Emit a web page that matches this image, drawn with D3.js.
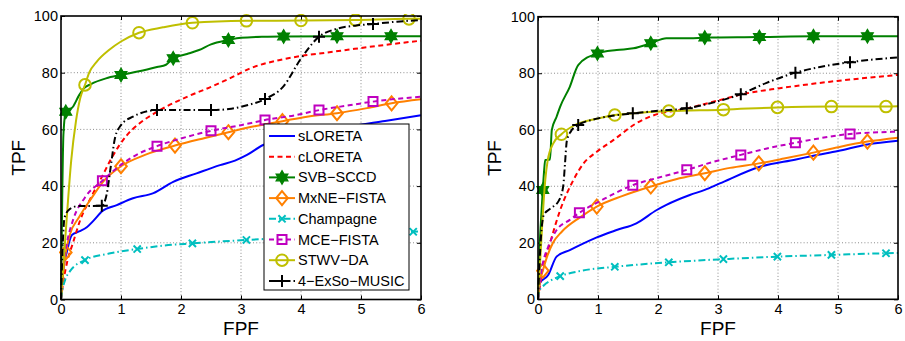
<!DOCTYPE html>
<html>
<head>
<meta charset="utf-8">
<script src="https://cdn.jsdelivr.net/npm/d3@7"></script>
<style>
  html, body { margin: 0; padding: 0; background: #fff; }
  svg { display: block; font-family: "Liberation Sans", Arial, Helvetica, sans-serif; }
</style>
</head>
<body>
<svg id="chart" width="905" height="341"></svg>
<script>
// Axis ticks
const xTicks = [0, 1, 2, 3, 4, 5, 6];
const yTicks = [0, 20, 40, 60, 80, 100];
const xLabel = "FPF";
const yLabel = "TPF";

// Method names in legend order
const methods = ["sLORETA", "cLORETA", "SVB\u2212SCCD", "MxNE\u2212FISTA", "Champagne", "MCE\u2212FISTA", "STWV\u2212DA", "4\u2212ExSo\u2212MUSIC"];

// ROC points [FPF, TPF, marked?] — left panel
const sloretaL = [[0,0],[0.02,5],[0.04,10.4],[0.1,17],[0.18,22.7],[0.3,24],[0.43,25.5],[0.55,28],[0.68,31],[0.93,33.3],[1.2,35.7],[1.54,37.5],[1.87,41.5],[2.26,44.5],[2.65,47.4],[2.9,49],[3.1,51],[3.37,54.5],[3.7,56.5],[4.2,58.5],[4.8,61],[5.4,63],[6,65]];
const cloretaL = [[0,0],[0.03,5],[0.1,13],[0.2,20],[0.32,28],[0.5,36],[0.7,44],[0.82,49],[0.96,54],[1.1,58],[1.3,62],[1.6,66.2],[2.1,71.5],[2.5,75],[2.87,78.6],[3.15,81.5],[3.65,84.5],[4,85.9],[4.4,87],[4.82,88.2],[5.4,89.8],[6,91.3]];
const svbL = [[0,0],[0.02,35],[0.04,58],[0.08,66.2,1],[0.2,68],[0.3,72],[0.38,74.5],[0.5,76],[0.75,78],[1.0,79.2,1],[1.3,80.5],[1.6,82],[1.75,82.8],[1.87,85.1,1],[2.1,86.6],[2.3,88],[2.5,90],[2.79,91.5,1],[3.0,92.3],[3.4,92.7],[3.71,92.8,1],[4.6,92.9,1],[5.5,92.9,1],[6,92.9]];
const mxneL = [[0,0],[0.03,8],[0.08,16.6,1],[0.15,23],[0.3,29],[0.5,35.5],[0.7,41.5],[1,47,1],[1.4,51],[1.9,54.3,1],[2.4,57],[2.79,59,1],[3.2,61],[3.69,62.9,1],[4.1,64.5],[4.6,65.7,1],[5.1,67.5],[5.51,69.2,1],[6,70.6]];
const champL = [[0,0],[0.03,4],[0.07,7],[0.15,10],[0.4,13.9,1],[0.8,16.2],[1.27,17.8,1],[1.7,19],[2.19,19.8,1],[3.09,21,1],[4,22,1],[4.9,23,1],[5.87,23.9,1],[6,24]];
const mceL = [[0,0],[0.03,10],[0.1,20],[0.2,28],[0.4,36],[0.69,41.9,1],[1,47.5],[1.3,51.5],[1.6,54.1,1],[2,56.8],[2.5,59.5,1],[3,61.5],[3.4,63.3,1],[3.9,65],[4.3,66.8,1],[4.8,68.5],[5.2,69.8,1],[6,71.5]];
const stwvL = [[0,0],[0.05,15],[0.1,30],[0.17,49],[0.25,63],[0.32,71],[0.4,75.7,1],[0.47,80],[0.6,84],[0.8,88],[1.0,91],[1.3,94.1,1],[1.7,96],[2.19,97.6,1],[3.09,98.3,1],[4,98.4,1],[4.91,98.6,1],[5.8,99,1],[6,99]];
const exsoL = [[0,0],[0.03,20],[0.06,29],[0.15,32],[0.3,33],[0.5,33],[0.68,33.1,1],[0.76,37],[0.83,47],[0.9,57],[1.0,61.5],[1.2,64.5],[1.6,66.8,1],[2.0,66.8],[2.5,66.8,1],[2.8,67.2],[3.1,68.5],[3.4,70.7,1],[3.7,75],[4.0,85],[4.3,92.7,1],[4.6,95.5],[4.9,96.6],[5.2,97.2,1],[5.6,98],[6,98.6]];

// ROC points [FPF, TPF, marked?] — right panel
const sloretaR = [[0,0],[0.03,5.7],[0.17,8.6],[0.31,15.1],[0.53,17.4],[0.98,21.9],[1.31,24.5],[1.64,26.9],[1.98,31.6],[2.14,33.4],[2.53,36.9],[2.78,38.7],[3.03,41],[3.7,46.9],[4.3,49.5],[4.59,50.8],[5.0,52.5],[5.49,54.8],[6,56.1]];
const cloretaR = [[0,0],[0.06,8.6],[0.2,19.8],[0.37,31.6],[0.59,42.2],[0.76,48.1],[0.98,52.2],[1.26,56.4],[1.64,62.3],[2.03,65.8],[2.37,67],[2.92,69.9],[3.48,72.9],[4.03,74.7],[4.87,77],[6,79.4]];
const svbR = [[0,0],[0.02,15],[0.05,28],[0.08,38.7,1],[0.1,45],[0.12,49.3],[0.2,49.5],[0.23,59.9],[0.31,64.6],[0.37,68.2],[0.53,75.2],[0.67,82.9],[0.99,87,1],[1.31,88.2],[1.59,88.8],[1.88,90.6,1],[2.14,92.4],[2.53,92.4],[2.78,92.6,1],[3.69,92.8,1],[4.59,93.1,1],[5.49,93.1,1],[6,93.1]];
const mxneR = [[0,0],[0.04,7],[0.08,10.1,1],[0.15,15],[0.25,20],[0.4,24],[0.7,29],[0.98,32.8,1],[1.4,36.5],[1.88,39.9,1],[2.3,42.5],[2.78,44.6,1],[3.2,46.5],[3.68,48.1,1],[4.1,49.8],[4.59,51.9,1],[5,53.8],[5.49,55.8,1],[6,57.2]];
const champR = [[0,0],[0.03,3.3],[0.1,5],[0.2,6.5],[0.37,8.2,1],[0.7,10],[1.28,11.5,1],[2.18,13.1,1],[3.09,14.2,1],[3.99,15.1,1],[4.89,15.7,1],[5.8,16.3,1],[6,16.4]];
const mceR = [[0,0],[0.06,10.4],[0.17,18.6],[0.31,24.5],[0.53,28.1],[0.69,30.6,1],[1.1,35.5],[1.58,40.4,1],[2.0,43],[2.48,45.8,1],[2.9,48.5],[3.38,51.1,1],[3.8,53.3],[4.29,55.4,1],[4.7,57],[5.2,58.5,1],[6,59.3]];
const stwvR = [[0,0],[0.04,15],[0.08,30],[0.12,42],[0.16,49],[0.25,55],[0.39,58.4,1],[0.6,61.5],[1.0,64],[1.28,65.2,1],[1.7,66],[2.18,66.6,1],[3.09,67.1,1],[3.99,67.9,1],[4.89,68.2,1],[5.8,68.2,1],[6,68.3]];
const exsoR = [[0,0],[0.03,15],[0.06,25],[0.1,30],[0.2,32],[0.35,35],[0.42,40],[0.45,48],[0.48,56],[0.55,59.5],[0.67,61.7,1],[0.9,63.5],[1.2,64.8],[1.58,65.8,1],[2,66.7],[2.48,67.6,1],[2.9,69.5],[3.38,72.6,1],[3.8,76.5],[4.29,80.2,1],[4.7,82.2],[5.2,83.9,1],[6,85.6]];

// Visual style per method
const styles = [
  { color: "#0000ff", dash: null,          marker: null },
  { color: "#ff0000", dash: "5,3.5",       marker: null },
  { color: "#008000", dash: null,          marker: "hexagram" },
  { color: "#ff8000", dash: null,          marker: "diamond" },
  { color: "#00bfbf", dash: "7,3,1.5,3",   marker: "x" },
  { color: "#bf00bf", dash: "5,3.5",       marker: "square" },
  { color: "#bfbf00", dash: null,          marker: "circle" },
  { color: "#000000", dash: "7,3,1.5,3",   marker: "plus" }
];

const panels = [
  { left: 61,  right: 421, top: 16,   bottom: 299.5, labelX: 18,
    series: [sloretaL, cloretaL, svbL, mxneL, champL, mceL, stwvL, exsoL], legend: true },
  { left: 538, right: 898, top: 16.7, bottom: 299.3, labelX: 494,
    series: [sloretaR, cloretaR, svbR, mxneR, champR, mceR, stwvR, exsoR], legend: false }
];

const svg = d3.select("#chart");

function markerPath(type) {
  if (type === "hexagram") {
    const r = 6.8, pts = a => [r * Math.cos(a), r * Math.sin(a)];
    const tri = off => [0, 1, 2].map(i => pts(off + i * 2 * Math.PI / 3));
    const up = tri(-Math.PI / 2), dn = tri(Math.PI / 2);
    const p = t => "M" + t.map(q => q[0].toFixed(2) + "," + q[1].toFixed(2)).join("L") + "Z";
    return p(up) + p(dn);
  }
  if (type === "diamond") return "M0,-7L5.8,0L0,7L-5.8,0Z";
  if (type === "square") return "M-4.5,-4.5H4.5V4.5H-4.5Z";
  if (type === "x") return "M-3.6,-3.6L3.6,3.6M-3.6,3.6L3.6,-3.6";
  if (type === "plus") return "M-6,0H6M0,-6V6";
  return null;
}

function drawMarker(g, type, color, x, y) {
  if (type === "circle") {
    g.append("circle").attr("cx", x).attr("cy", y).attr("r", 5.8)
      .attr("fill", "none").attr("stroke", color).attr("stroke-width", 2);
    return;
  }
  const p = g.append("path").attr("d", markerPath(type))
    .attr("transform", `translate(${x},${y})`)
    .attr("stroke", color).attr("stroke-width", 2);
  if (type === "hexagram") p.attr("fill", color).attr("stroke-width", 1.2).attr("stroke-linejoin", "miter");
  else p.attr("fill", "none");
}

panels.forEach((pn, pi) => {
  const x = d3.scaleLinear().domain([0, 6]).range([pn.left, pn.right]);
  const y = d3.scaleLinear().domain([0, 100]).range([pn.bottom, pn.top]);
  const g = svg.append("g");
  const w = pn.right - pn.left, h = pn.bottom - pn.top;

  // dotted grid
  const grid = g.append("g").attr("stroke", "#8c8c8c").attr("stroke-width", 1)
    .attr("stroke-dasharray", "1,2.2");
  xTicks.slice(1, -1).forEach(t => grid.append("line")
    .attr("x1", x(t)).attr("x2", x(t)).attr("y1", pn.top).attr("y2", pn.bottom));
  yTicks.slice(1, -1).forEach(t => grid.append("line")
    .attr("x1", pn.left).attr("x2", pn.right).attr("y1", y(t)).attr("y2", y(t)));

  // axes with inward ticks, labels on bottom and left
  const bottom = g.append("g").attr("transform", `translate(0,${pn.bottom})`)
    .call(d3.axisBottom(x).tickValues(xTicks).tickSize(-4).tickPadding(4).tickFormat(d3.format("d")));
  const leftAx = g.append("g").attr("transform", `translate(${pn.left},0)`)
    .call(d3.axisLeft(y).tickValues(yTicks).tickSize(-4).tickPadding(3).tickFormat(d3.format("d")));
  const topAx = g.append("g").attr("transform", `translate(0,${pn.top})`)
    .call(d3.axisTop(x).tickValues(xTicks).tickSize(-4).tickFormat(""));
  const rightAx = g.append("g").attr("transform", `translate(${pn.right},0)`)
    .call(d3.axisRight(y).tickValues(yTicks).tickSize(-4).tickFormat(""));
  [bottom, leftAx, topAx, rightAx].forEach(a => {
    a.select(".domain").remove();
    a.selectAll(".tick line").attr("stroke", "#000").attr("stroke-width", 1);
    a.selectAll("text").attr("font-size", 14.5).attr("fill", "#000")
      .attr("font-family", "'Liberation Sans', Arial, sans-serif");
  });

  // data lines
  const clipId = "clip" + pi;
  g.append("clipPath").attr("id", clipId).append("rect")
    .attr("x", pn.left - 2).attr("y", pn.top - 2).attr("width", w + 4).attr("height", h + 4);
  const plot = g.append("g").attr("clip-path", `url(#${clipId})`);
  const line = d3.line().x(d => x(d[0])).y(d => y(d[1])).curve(d3.curveMonotoneX);

  pn.series.forEach((data, si) => {
    const st = styles[si];
    plot.append("path").datum(data).attr("d", line)
      .attr("fill", "none").attr("stroke", st.color).attr("stroke-width", 2)
      .attr("stroke-linejoin", "round")
      .attr("stroke-dasharray", st.dash);
    if (st.marker) {
      data.filter(d => d[2]).forEach(d => drawMarker(plot, st.marker, st.color, x(d[0]), y(d[1])));
    }
  });

  // axes box
  g.append("rect").attr("x", pn.left).attr("y", pn.top).attr("width", w).attr("height", h)
    .attr("fill", "none").attr("stroke", "#000").attr("stroke-width", 1.6);

  // axis titles
  g.append("text").attr("x", (pn.left + pn.right) / 2).attr("y", 335)
    .attr("text-anchor", "middle").attr("font-size", 19).text(xLabel);
  g.append("text").attr("transform", `translate(${pn.labelX + 7},${(pn.top + pn.bottom) / 2}) rotate(-90)`)
    .attr("text-anchor", "middle").attr("font-size", 19).text(yLabel);

  // legend
  if (pn.legend) {
    const lx = 264, ly = 124, lw = 145, lh = 166, row = 20.7;
    const lg = g.append("g");
    lg.append("rect").attr("x", lx).attr("y", ly).attr("width", lw).attr("height", lh)
      .attr("fill", "#fff").attr("stroke", "#000").attr("stroke-width", 1);
    methods.forEach((m, i) => {
      const st = styles[i];
      const cy = ly + 12 + i * row;
      lg.append("line").attr("x1", lx + 5).attr("x2", lx + 31).attr("y1", cy).attr("y2", cy)
        .attr("stroke", st.color).attr("stroke-width", 2).attr("stroke-dasharray", st.dash);
      if (st.marker) drawMarker(lg, st.marker, st.color, lx + 18, cy);
      lg.append("text").attr("x", lx + 34).attr("y", cy).attr("dy", "0.35em")
        .attr("font-size", 14.5).text(m);
    });
  }
});
</script>
</body>
</html>
